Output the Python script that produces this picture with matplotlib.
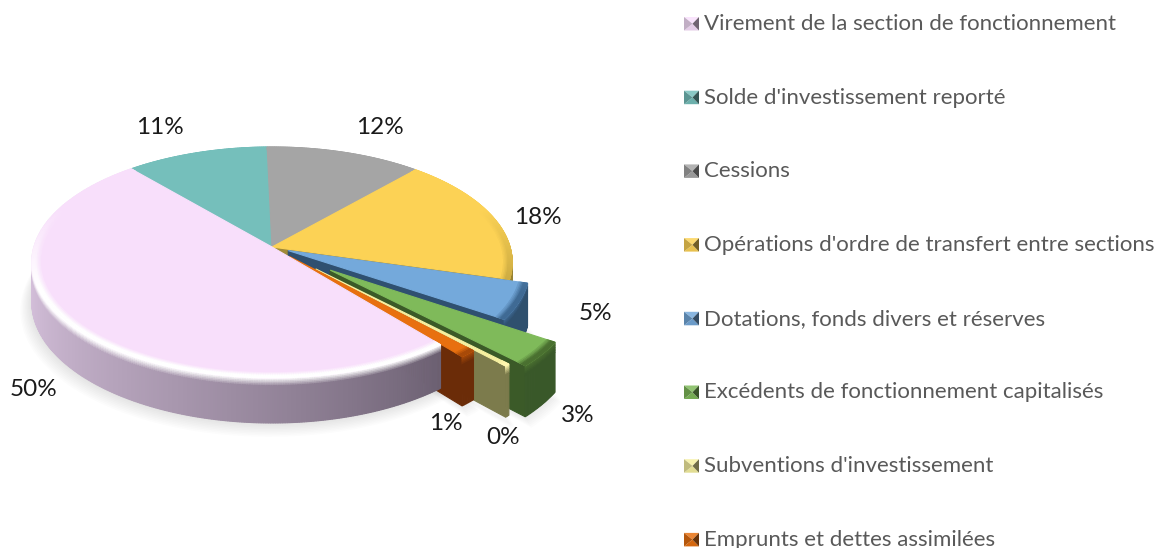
import matplotlib
matplotlib.use('Agg')
import matplotlib.pyplot as plt
import numpy as np

plt.rcParams['font.family'] = ['Lato', 'DejaVu Sans']

categories = ['Virement de la section de fonctionnement', "Solde d'investissement reporté", 'Cessions',
              "Opérations d'ordre de transfert entre sections", 'Dotations, fonds divers et réserves',
              'Excédents de fonctionnement capitalisés', "Subventions d'investissement",
              'Emprunts et dettes assimilées']
values = [50, 11, 12, 18, 5, 3.4, 0.3, 1]
pct_labels = ['50%', '11%', '12%', '18%', '5%', '3%', '0%', '1%']

colors = ['#F8DFFB', '#75BFBB', '#A5A5A5', '#FCD255', '#74A9DB', '#7FBA5A', '#F6F0A0', '#E8700F']
walls = ['#D8C3DE', '#4E8F8B', '#777777', '#A08A38', '#2F5070', '#3B5A28', '#7C7B4C', '#6B2C08']
walls_dark = ['#6C6072', '#4E8F8B', '#777777', '#8F7A2C', '#2F4F6C', '#36552A', '#7C7B4C', '#6B2C08']
bevels = ['#FFFFFF', '#75BFBB', '#A5A5A5', '#C8A840', '#3F6A94', '#4A7030', '#FFF8B0', '#A84A08']
explode = [0, 0, 0, 0, 0.075, 0.31, 0.26, 0.11]
depth = [1, 1, 1, 0.45, 1.05, 1.15, 1.15, 1.12]
label_xy = [(34, 390), (160, 127), (380, 127), (538, 217), (595, 313), (578, 415), (503, 437), (446, 423)]

# pie geometry in pixels, k gives the perspective
AX, AY, R, S, D, k = 272, 247, 238, 113.4, 39, 0.134
START = np.radians(309.4)


def pt(r, t, z=0.0, ex=0.0, tm=0.0):
    x = r * np.cos(t) + ex * np.cos(tm)
    y = r * np.sin(t) + ex * np.sin(tm)
    d = 1 + k * y
    return np.column_stack([AX + R * x / d, AY - S * y / d + z * D / d])


def mix(c1, c2, f):
    a, b = np.array(matplotlib.colors.to_rgb(c1)), np.array(matplotlib.colors.to_rgb(c2))
    return tuple(a + (b - a) * f)


def quad(ax, p, c, zo):
    ax.fill(p[:, 0], p[:, 1], facecolor=c, edgecolor=c, lw=0.8, zorder=zo)


fig = plt.figure(figsize=(11.66, 5.48), dpi=100)
ax = fig.add_axes([0, 0, 1, 1])
ax.set_xlim(0, 1166)
ax.set_ylim(548, 0)
ax.axis('off')

fracs = np.array(values) / np.sum(values) * 2 * np.pi
ends = START - np.cumsum(fracs)
starts = ends + fracs
mids = (starts + ends) / 2

# soft shadow on the ground
circle = np.linspace(0, 2 * np.pi, 200)
for n in range(10):
    p = pt(1.0 + n * 0.004, circle, 1.0 + n * 0.02)
    p[:, 0] -= n * 0.3
    ax.fill(p[:, 0], p[:, 1], color='black', alpha=0.012, lw=0, zorder=1)
for i in [4, 5, 6, 7]:
    t = np.linspace(ends[i], starts[i], 20)
    for n in range(8):
        p = pt(1.0 + n * 0.004, t, depth[i] + n * 0.025, explode[i], mids[i])
        p = np.vstack([p, pt(0, 0, depth[i], explode[i], mids[i])])
        ax.fill(p[:, 0], p[:, 1], color='black', alpha=0.012, lw=0, zorder=1)

order = [1, 2, 3, 4, 5, 6, 7, 0]
for zo, i in enumerate(order):
    zo = 2 + zo
    ex, tm, dp = explode[i], mids[i], depth[i]
    ts = np.linspace(ends[i], starts[i], max(int(np.degrees(fracs[i]) * 2), 3))
    # the two back slices show no sides at all
    if i not in (1, 2):
        # radial face on the clockwise side
        if i != 0:
            rr = np.array([0, 1.0])
            a = pt(rr, np.full(2, ends[i]), 0.0, ex, tm)
            b = pt(rr[::-1], np.full(2, ends[i]), dp, ex, tm)
            quad(ax, np.vstack([a, b]), walls[i], zo)
        # outer wall, graded along the rim
        zs = np.append(np.linspace(0, 0.2, 7), 1.0) * dp
        for j in range(len(ts) - 1):
            t = ts[j:j + 2]
            s = np.clip((0.35 - np.sin(t.mean())) / 0.7, 0, 1)
            u = (np.mod(t.mean(), 2 * np.pi) - np.pi) / (START - np.pi)
            wc = mix(walls[i], walls_dark[i], np.clip(u, 0, 1) ** 1.3 if i == 0 else 0.5)
            for m in range(len(zs) - 1):
                f = min(1.0, m / 5)
                c = mix(mix(colors[i], bevels[i], s), wc, f)
                p = np.vstack([pt(1.0, t, zs[m], ex, tm), pt(1.0, t[::-1], zs[m + 1], ex, tm)])
                quad(ax, p, c, zo)
    # top face
    tt = np.linspace(ends[i], starts[i], 80)
    p = np.vstack([pt(0, 0, 0, ex, tm), pt(1.0, tt, 0, ex, tm)])
    quad(ax, p, colors[i], zo)
    # bevel band round the rim
    rs = np.linspace(0.965, 1.0, 7)
    for j in range(len(ts) - 1):
        t = ts[j:j + 2]
        s = np.clip((0.35 - np.sin(t.mean())) / 0.7, 0, 1)
        for m in range(len(rs) - 1):
            c = mix(colors[i], bevels[i], s * min(1.0, (m + 1) / 4))
            p = np.vstack([pt(rs[m], t, 0, ex, tm), pt(rs[m + 1], t[::-1], 0, ex, tm)])
            quad(ax, p, c, zo)

for txt, (x, y) in zip(pct_labels, label_xy):
    ax.text(x, y, txt, fontsize=17.5, color='#1a1a1a', ha='center', va='center', zorder=30)

# legend with bevelled square keys
for i, name in enumerate(categories):
    y = 23 + i * 73.7
    x0, x1, y0, y1 = 684, 699, y - 6, y + 7.5
    cx, cy = (x0 + x1) / 2 + 1, (y0 + y1) / 2
    tris = [([x0, x1, cx], [y0, y0, cy], mix(colors[i], '#FFFFFF', 0.15)),
            ([x0, x1, cx], [y1, y1, cy], mix(colors[i], '#000000', 0.08)),
            ([x0, x0, cx], [y0, y1, cy], mix(colors[i], '#000000', 0.22)),
            ([x1, x1, cx], [y0, y1, cy], mix(colors[i], '#000000', 0.55))]
    for xs, ys, c in tris:
        ax.fill(xs, ys, color=c, lw=0, zorder=30)
    ax.text(704, y + 1, name, fontsize=16, color='#595959', ha='left', va='center', zorder=30)

fig.savefig('out.png', dpi=100)
